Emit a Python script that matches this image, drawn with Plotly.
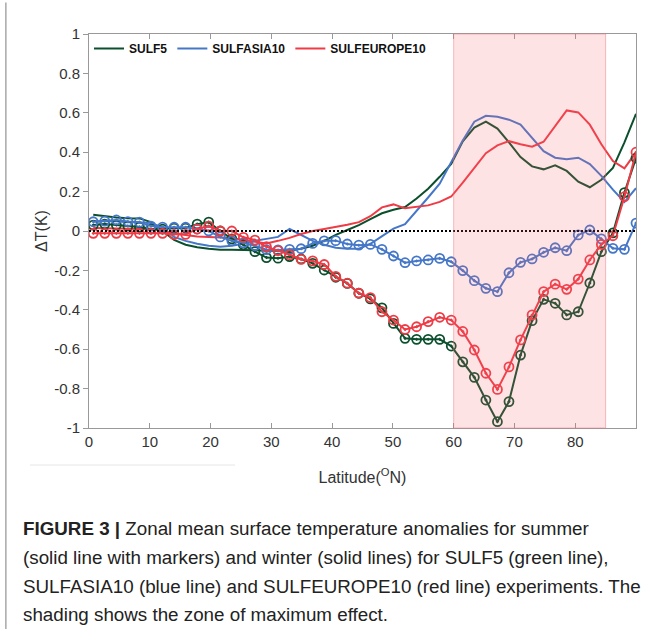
import plotly.graph_objects as go

# Latitude grid (deg N)
lat = [0.7, 2.6, 4.5, 6.4, 8.3, 10.2, 12.1, 14.0, 15.9, 17.8, 19.7, 21.6, 23.5, 25.4,
       27.3, 29.2, 31.1, 33.0, 34.9, 36.8, 38.7, 40.6, 42.5, 44.4, 46.3, 48.2, 50.1,
       52.0, 53.9, 55.8, 57.7, 59.6, 61.5, 63.4, 65.3, 67.2, 69.1, 71.0, 72.9, 74.8,
       76.7, 78.6, 80.5, 82.4, 84.3, 86.2, 88.1, 90.0]

# Summer (solid line with markers)
sulf5_summer = [0.03, 0.035, 0.03, 0.025, 0.02, 0.01, 0.01, 0.015, 0.015, 0.035, 0.045, 0.0,
                -0.04, -0.07, -0.105, -0.135, -0.138, -0.13, -0.142, -0.164, -0.198, -0.235,
                -0.266, -0.316, -0.345, -0.39, -0.469, -0.545, -0.55, -0.55, -0.55, -0.584,
                -0.664, -0.743, -0.858, -0.968, -0.866, -0.63, -0.455, -0.347, -0.367, -0.426,
                -0.41, -0.264, -0.105, -0.01, 0.195, 0.37]
sulfasia10_summer = [0.047, 0.05, 0.056, 0.048, 0.045, 0.025, 0.02, 0.019, 0.019, 0.01, 0.0,
                     -0.03, -0.05, -0.06, -0.075, -0.095, -0.096, -0.093, -0.09, -0.063, -0.05,
                     -0.049, -0.066, -0.072, -0.068, -0.093, -0.127, -0.161, -0.152, -0.147,
                     -0.139, -0.156, -0.201, -0.252, -0.291, -0.308, -0.212, -0.159, -0.142,
                     -0.108, -0.085, -0.1, -0.02, 0.005, -0.04, -0.088, -0.093, 0.04]
sulfeurope10_summer = [-0.012, -0.012, -0.012, -0.012, -0.012, -0.012, -0.012, -0.017, -0.017,
                       0.01, 0.025, 0.0, 0.0, -0.032, -0.046, -0.08, -0.1, -0.12, -0.144, -0.152,
                       -0.17, -0.23, -0.265, -0.316, -0.338, -0.41, -0.452, -0.5, -0.486, -0.46,
                       -0.438, -0.452, -0.51, -0.604, -0.722, -0.804, -0.69, -0.553, -0.426,
                       -0.308, -0.27, -0.296, -0.244, -0.147, -0.068, -0.024, 0.174, 0.40]

# Winter (solid lines)
sulf5_winter = [0.083, 0.076, 0.068, 0.065, 0.064, 0.045, 0.0, -0.045, -0.07, -0.082, -0.09,
                -0.095, -0.095, -0.095, -0.098, -0.1, -0.1, -0.1, -0.09, -0.075, -0.05, -0.02,
                0.005, 0.03, 0.06, 0.09, 0.108, 0.122, 0.165, 0.215, 0.275, 0.34, 0.455, 0.525,
                0.555, 0.52, 0.45, 0.375, 0.328, 0.313, 0.333, 0.305, 0.25, 0.222, 0.26, 0.32,
                0.45, 0.595]
sulfasia10_winter = [0.05, 0.05, 0.05, 0.045, 0.045, 0.04, 0.02, -0.03, -0.05, -0.065, -0.075,
                     -0.08, -0.075, -0.065, -0.05, -0.04, -0.03, 0.01, -0.02, -0.05, -0.07,
                     -0.085, -0.09, -0.09, -0.065, -0.025, 0.012, 0.035, 0.1, 0.17, 0.24, 0.35,
                     0.46, 0.555, 0.585, 0.58, 0.565, 0.54, 0.47, 0.405, 0.372, 0.364, 0.372,
                     0.34, 0.28, 0.21, 0.147, 0.217]
sulfeurope10_winter = [0.015, 0.015, 0.015, 0.012, 0.01, 0.01, 0.0, -0.012, -0.02, -0.028, -0.03,
                       -0.032, -0.035, -0.045, -0.055, -0.063, -0.05, -0.035, -0.015, 0.0, 0.01,
                       0.02, 0.032, 0.045, 0.075, 0.12, 0.135, 0.115, 0.122, 0.13, 0.148, 0.175,
                       0.245, 0.32, 0.395, 0.435, 0.456, 0.44, 0.428, 0.453, 0.535, 0.612, 0.602,
                       0.54, 0.44, 0.355, 0.318, 0.40]

names = ["SULF5", "SULFASIA10", "SULFEUROPE10"]
colors = ["#0b4f2d", "#4577c8", "#ee3b45"]

x_ticks = [0, 10, 20, 30, 40, 50, 60, 70, 80]
y_ticks = [1, 0.8, 0.6, 0.4, 0.2, 0, -0.2, -0.4, -0.6, -0.8, -1]
y_ticktext = ["1", "0.8", "0.6", "0.4", "0.2", "0", "-0.2", "-0.4", "-0.6", "-0.8", "-1"]

caption_lines = [
    "<b>FIGURE 3 |</b> Zonal mean surface temperature anomalies for summer",
    "(solid line with markers) and winter (solid lines) for SULF5 (green line),",
    "SULFASIA10 (blue line) and SULFEUROPE10 (red line) experiments. The",
    "shading shows the zone of maximum effect.",
]

fig = go.Figure()

winter = [sulf5_winter, sulfasia10_winter, sulfeurope10_winter]
summer = [sulf5_summer, sulfasia10_summer, sulfeurope10_summer]

for n, c, w in zip(names, colors, winter):
    fig.add_trace(go.Scatter(x=lat, y=w, mode="lines", name=n,
                             line=dict(color=c, width=2)))
for n, c, s in zip(names, colors, summer):
    fig.add_trace(go.Scatter(x=lat, y=s, mode="lines+markers", name=n + " summer",
                             showlegend=False,
                             line=dict(color=c, width=2),
                             marker=dict(symbol="circle-open-dot", size=9, color=c,
                                         line=dict(color=c, width=1.8))))

# zero line
fig.add_shape(type="line", xref="paper", yref="y", x0=0, x1=1, y0=0, y1=0,
              line=dict(color="black", width=2, dash="2px,2px"), layer="above")
# shaded zone of maximum effect
fig.add_shape(type="rect", xref="x", yref="paper", x0=60, x1=85, y0=0, y1=1,
              fillcolor="rgba(250,100,110,0.18)",
              line=dict(color="rgba(240,110,120,0.45)", width=1), layer="above")
# frame decorations
fig.add_shape(type="line", xref="paper", yref="paper", x0=-0.152, x1=-0.152,
              y0=1.08, y1=-0.51, line=dict(color="#a8a8a8", width=1.5))
fig.add_shape(type="line", xref="paper", yref="paper", x0=-0.108, x1=0.267,
              y0=-0.094, y1=-0.094, line=dict(color="#e6e6e6", width=1))

axis_font = dict(family="Liberation Sans, Arial", size=15, color="#333333")
title_font = dict(family="Liberation Sans, Arial", size=16, color="#333333")

fig.update_layout(
    width=652, height=629,
    margin=dict(l=89, r=16, t=34, b=201, autoexpand=False),
    paper_bgcolor="white", plot_bgcolor="white",
    showlegend=True,
    legend=dict(orientation="h", x=0.0, y=1.0, xanchor="left", yanchor="top",
                bgcolor="rgba(0,0,0,0)",
                font=dict(family="Liberation Sans, Arial", size=12, color="#111111",
                          weight="bold"),
                tracegroupgap=0, itemwidth=30),
    xaxis=dict(range=[0, 90], tickvals=x_ticks, ticks="inside", ticklen=5,
               tickcolor="#999999", showline=True, linecolor="#999999", linewidth=1,
               mirror="ticks", showgrid=False, zeroline=False, tickfont=axis_font,
               automargin=False,
               title=dict(text="Latitude(<sup>O</sup>N)", font=title_font, standoff=22)),
    yaxis=dict(range=[-1, 1], tickvals=y_ticks, ticktext=y_ticktext, ticks="outside",
               ticklen=5, tickcolor="#999999", showline=True, linecolor="#999999",
               linewidth=1, mirror=True, showgrid=False, zeroline=False,
               tickfont=axis_font, automargin=False,
               title=dict(text="ΔT(K)", font=title_font, standoff=2)),
)

cap_font = dict(family="Liberation Sans, Arial", size=18.8, color="#222222")
cap_y = [528, 557, 586, 614]
for txt, py in zip(caption_lines, cap_y):
    fig.add_annotation(text=txt, xref="paper", yref="paper",
                       x=(21 - 89) / 547, y=(428 - py) / 394,
                       xanchor="left", yanchor="middle", showarrow=False,
                       font=cap_font, align="left")

fig.write_html("out.html", config={"displayModeBar": False},
               post_script="document.body.style.margin='0';document.body.style.overflow='hidden';")
